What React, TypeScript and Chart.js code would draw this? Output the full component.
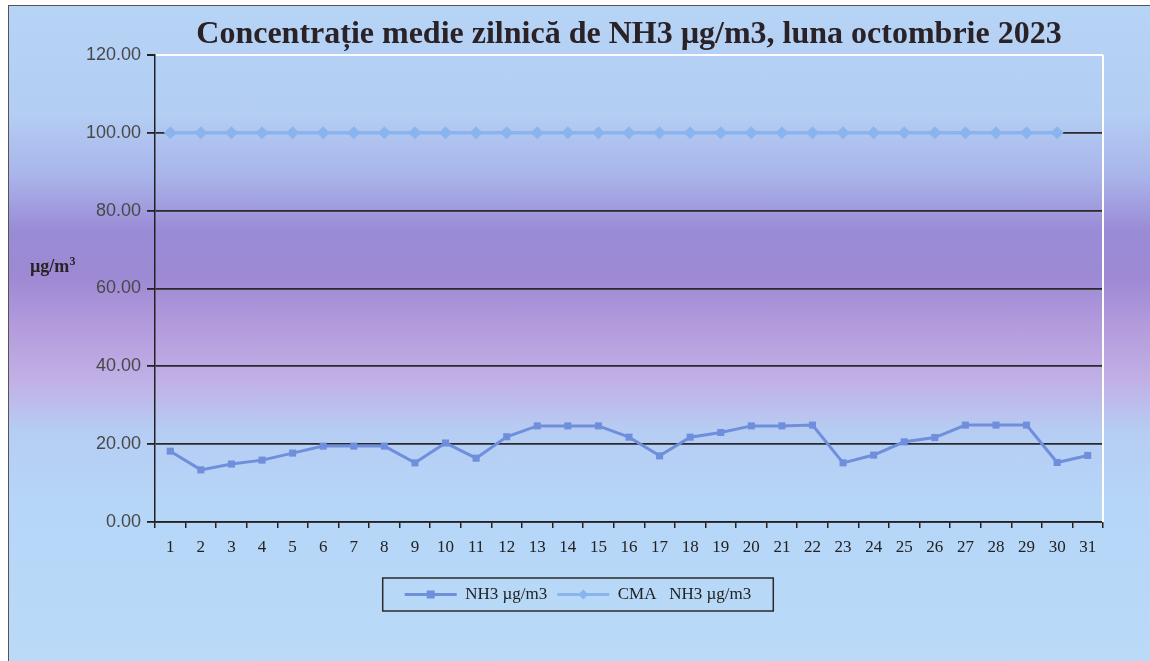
import React, { useEffect, useRef } from "react";
import { Chart, registerables } from "chart.js";

Chart.register(...registerables);

const titleText = "Concentrație medie zilnică de NH3 µg/m3, luna octombrie 2023";
const days = ["1", "2", "3", "4", "5", "6", "7", "8", "9", "10", "11", "12", "13", "14", "15", "16", "17", "18", "19", "20", "21", "22", "23", "24", "25", "26", "27", "28", "29", "30", "31"];
const nh3Values = [18.2, 13.4, 14.9, 15.9, 17.7, 19.5, 19.5, 19.5, 15.2, 20.3, 16.4, 21.9, 24.7, 24.7, 24.7, 21.8, 17.0, 21.8, 23.0, 24.7, 24.7, 24.9, 15.2, 17.2, 20.6, 21.7, 24.9, 24.9, 24.9, 15.3, 17.1];
const cmaValues = [100, 100, 100, 100, 100, 100, 100, 100, 100, 100, 100, 100, 100, 100, 100, 100, 100, 100, 100, 100, 100, 100, 100, 100, 100, 100, 100, 100, 100, 100, null];
const seriesNames = ["NH3 µg/m3", "CMA   NH3 µg/m3"];
const yMin = 0;
const yMax = 120;
const yStep = 20;

const NH3_COLOR = "#6f8fdd";
const CMA_COLOR = "#8ab4ee";

const plotFramePlugin = {
  id: "plotFrame",
  beforeDatasetsDraw(chart: any) {
    const { ctx, chartArea } = chart;
    ctx.save();
    ctx.strokeStyle = "#ffffff";
    ctx.lineWidth = 2;
    ctx.beginPath();
    ctx.moveTo(chartArea.right, chartArea.top);
    ctx.lineTo(chartArea.right, chartArea.bottom);
    ctx.stroke();
    ctx.restore();
  },
  afterDraw(chart: any) {
    const lg = chart.legend;
    if (!lg || !lg.legendHitBoxes || !lg.legendHitBoxes.length) return;
    const boxes = lg.legendHitBoxes;
    const bw = lg.options.labels.boxWidth;
    const ctx = chart.ctx;
    ctx.save();
    boxes.forEach((hb: any, i: number) => {
      const cx = hb.left + bw / 2;
      const cy = hb.top + hb.height / 2;
      if (i === 0) {
        ctx.fillStyle = NH3_COLOR;
        ctx.fillRect(cx - 4, cy - 4, 8, 8);
      } else {
        ctx.fillStyle = CMA_COLOR;
        ctx.beginPath();
        ctx.moveTo(cx, cy - 5);
        ctx.lineTo(cx + 5, cy);
        ctx.lineTo(cx, cy + 5);
        ctx.lineTo(cx - 5, cy);
        ctx.closePath();
        ctx.fill();
      }
    });
    const first = boxes[0];
    const last = boxes[boxes.length - 1];
    const left = first.left - 22;
    const right = last.left + last.width + 22;
    const top = first.top - 8;
    const bottom = first.top + first.height + 8;
    ctx.strokeStyle = "#2a2a2a";
    ctx.lineWidth = 1.5;
    ctx.strokeRect(left, top, right - left, bottom - top);
    ctx.restore();
  },
};

export default function App() {
  const canvasRef = useRef<HTMLCanvasElement | null>(null);

  useEffect(() => {
    if (!canvasRef.current) return;
    const chart = new Chart(canvasRef.current, {
      type: "line",
      data: {
        labels: days,
        datasets: [
          {
            label: seriesNames[0],
            data: nh3Values,
            borderColor: NH3_COLOR,
            backgroundColor: "rgba(0,0,0,0)",
            borderWidth: 3,
            pointStyle: "rect",
            pointRadius: 5,
            pointBackgroundColor: NH3_COLOR,
            pointBorderColor: NH3_COLOR,
            pointBorderWidth: 0,
            tension: 0,
          },
          {
            label: seriesNames[1],
            data: cmaValues,
            borderColor: CMA_COLOR,
            backgroundColor: "rgba(0,0,0,0)",
            borderWidth: 3.5,
            pointStyle: "rectRot",
            pointRadius: 6.5,
            pointBackgroundColor: CMA_COLOR,
            pointBorderColor: CMA_COLOR,
            pointBorderWidth: 0,
            tension: 0,
          },
        ],
      },
      options: {
        responsive: false,
        animation: false,
        layout: { padding: { left: 53, right: 47, top: 55, bottom: 48 } },
        plugins: {
          title: { display: false },
          tooltip: { enabled: false },
          legend: {
            position: "bottom",
            labels: {
              boxWidth: 52,
              boxHeight: 3,
              padding: 10,
              color: "#222",
              font: { family: "'Liberation Serif', 'Times New Roman', serif", size: 17 },
              generateLabels: (chart: any) =>
                chart.data.datasets.map((ds: any, i: number) => ({
                  text: ds.label,
                  fillStyle: ds.borderColor,
                  strokeStyle: ds.borderColor,
                  lineWidth: 0,
                  hidden: false,
                  datasetIndex: i,
                  fontColor: "#222",
                })),
            },
          },
        },
        scales: {
          x: {
            type: "category",
            offset: true,
            afterFit: (s: any) => {
              s.height = 54;
            },
            border: { color: "#222", width: 1.5 },
            grid: {
              offset: true,
              drawOnChartArea: false,
              drawTicks: true,
              tickLength: 6,
              color: "#222",
              lineWidth: 1.5,
            },
            ticks: {
              color: "#222",
              padding: 9,
              maxRotation: 0,
              autoSkip: false,
              font: { family: "'Liberation Serif', 'Times New Roman', serif", size: 17 },
            },
          },
          y: {
            min: yMin,
            max: yMax,
            afterFit: (s: any) => {
              s.width = 102;
            },
            border: { color: "#222", width: 1.5 },
            grid: {
              color: (c: any) => (c.tick && c.tick.value === yMax ? "#ffffff" : "#2a2a2a"),
              lineWidth: (c: any) => (c.tick && c.tick.value === yMax ? 2 : 1.8),
              tickColor: "#222",
              tickLength: 8,
            },
            ticks: {
              stepSize: yStep,
              color: "#484848",
              padding: 6,
              font: { family: "'Liberation Sans', Arial, sans-serif", size: 18 },
              callback: (v: any) => Number(v).toFixed(2),
            },
          },
        },
      },
      plugins: [plotFramePlugin],
    });
    return () => chart.destroy();
  }, []);

  const bg =
    "linear-gradient(to bottom, #b6d4f6 0px, #b3cdf3 110px, #a9b4ea 170px, #9a8bd6 225px, #9d89d4 270px, #b39bdc 320px, #c1b0e6 375px, #b6cdf3 425px, #b6d6f8 500px, #badaf8 661px)";

  return (
    <div style={{ position: "fixed", left: 0, top: 0, width: 1150, height: 661, background: "#ffffff", overflow: "hidden" }}>
      <div
        style={{
          position: "absolute",
          left: 8,
          top: 5,
          width: 1142,
          height: 656,
          borderLeft: "1.5px solid #555",
          borderTop: "1.5px solid #555",
          background: bg,
        }}
      />
      <canvas ref={canvasRef} width={1150} height={661} style={{ position: "absolute", left: 0, top: 0, display: "block" }} />
      <div
        style={{
          position: "absolute",
          left: 155,
          top: 13,
          width: 948,
          textAlign: "center",
          fontFamily: "'Liberation Serif', 'Times New Roman', serif",
          fontWeight: "bold",
          fontSize: 32,
          lineHeight: "38px",
          color: "#2a2226",
          whiteSpace: "nowrap",
        }}
      >
        {titleText}
      </div>
      <div
        style={{
          position: "absolute",
          left: 30,
          top: 250,
          fontFamily: "'Liberation Serif', 'Times New Roman', serif",
          fontWeight: "bold",
          fontSize: 18,
          lineHeight: "22px",
          color: "#2a2226",
          whiteSpace: "nowrap",
        }}
      >
        µg/m<sup style={{ fontSize: 12 }}>3</sup>
      </div>
    </div>
  );
}
